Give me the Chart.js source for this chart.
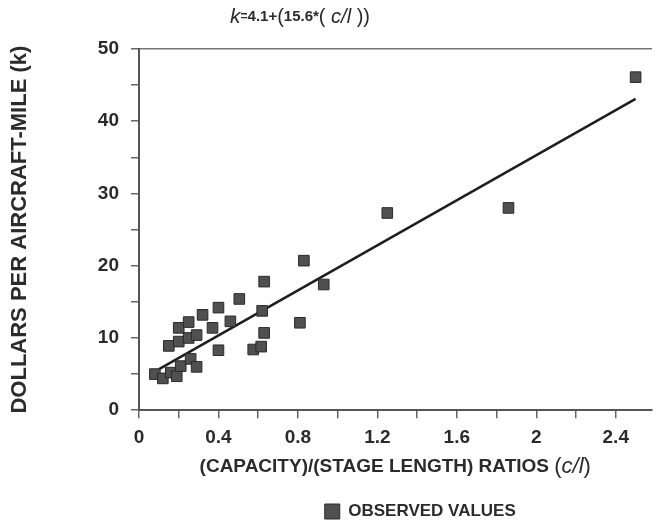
<!DOCTYPE html>
<html lang="en">
<head>
  <meta charset="UTF-8">
  <title>Cost per aircraft-mile</title>
  <script src="https://cdn.jsdelivr.net/npm/chart.js"></script>
  <style>
    html, body { margin: 0; padding: 0; background: #fff; }
    #wrap { width: 660px; height: 522px; }
  </style>
</head>
<body>
  <div id="wrap"><canvas id="costChart"></canvas></div>
  <script>
    const obsX = [0.08, 0.12, 0.15, 0.16, 0.19, 0.20, 0.20, 0.21, 0.25, 0.25,
                  0.29, 0.26, 0.29, 0.32, 0.37, 0.40, 0.40, 0.46, 0.505, 0.575,
                  0.615, 0.63, 0.62, 0.63, 0.81, 0.83, 0.93, 1.25, 1.86, 2.50];
    const obsY = [5.0, 4.4, 8.9, 5.2, 4.7, 9.5, 11.4, 6.1, 12.2, 10.0,
                  10.4, 7.1, 6.0, 13.2, 11.4, 14.2, 8.3, 12.3, 15.4, 8.4,
                  8.8, 17.8, 13.75, 10.7, 12.1, 20.7, 17.4, 27.3, 28.0, 46.1];

    // ends of the fitted line as drawn
    const fitX = [0.07, 2.50];
    const fitY = [5.2, 43.1];

    const xTickLabels = ['0', '0.4', '0.8', '1.2', '1.6', '2', '2.4'];
    const yTickLabels = ['0', '10', '20', '30', '40', '50'];

    const ink = '#2b2b2b';
    const FONT = "'Liberation Sans', Arial, sans-serif";

    // draw a line of mixed-style text centred on cx
    function drawRuns(ctx, runs, cx, cy) {
      let total = 0;
      runs.forEach(r => { ctx.font = r.font; total += ctx.measureText(r.text).width; });
      let x = cx - total / 2;
      ctx.textBaseline = 'middle';
      ctx.textAlign = 'left';
      ctx.fillStyle = ink;
      runs.forEach(r => {
        ctx.font = r.font;
        ctx.fillText(r.text, x, cy + (r.dy || 0));
        x += ctx.measureText(r.text).width;
      });
    }

    const textPlugin = {
      id: 'mixedText',
      afterLayout(chart) {
        // legend sits under the plot area, a little lower than default
        const a = chart.chartArea;
        const lg = chart.legend;
        lg.left = a.left + 50;
        lg.right = a.right;
        lg.top += 8;
        lg.bottom += 8;
      },
      afterDraw(chart) {
        const ctx = chart.ctx;
        const a = chart.chartArea;
        ctx.save();
        drawRuns(ctx, [
          { text: 'k', font: 'italic 21px ' + FONT },
          { text: '=', font: 'bold 12px ' + FONT },
          { text: '4.1+', font: 'bold 15px ' + FONT },
          { text: '(', font: '20px ' + FONT },
          { text: '15.6*', font: 'bold 15px ' + FONT },
          { text: '( ', font: '20px ' + FONT },
          { text: 'c/l', font: 'italic 20px ' + FONT },
          { text: ' ))', font: '20px ' + FONT }
        ], 300, 17);
        drawRuns(ctx, [
          { text: '(CAPACITY)/(STAGE LENGTH) RATIOS ', font: 'bold 19px ' + FONT },
          { text: '(', font: '22px ' + FONT },
          { text: 'c/l', font: 'italic 22px ' + FONT },
          { text: ')', font: '22px ' + FONT }
        ], (a.left + a.right) / 2, 467);
        ctx.restore();
      }
    };

    const ctx = document.getElementById('costChart').getContext('2d');
    new Chart(ctx, {
      data: {
        datasets: [{
          type: 'scatter',
          label: 'OBSERVED VALUES',
          data: obsX.map((x, i) => ({ x: x, y: obsY[i] })),
          pointStyle: 'rect',
          pointRadius: 7.5,
          backgroundColor: '#505050',
          borderColor: '#2a2a2a',
          borderWidth: 1
        }, {
          type: 'line',
          label: 'fit',
          data: fitX.map((x, i) => ({ x: x, y: fitY[i] })),
          borderColor: '#1e1e1e',
          borderWidth: 2.5,
          pointRadius: 0,
          fill: false
        }]
      },
      options: {
        responsive: true,
        maintainAspectRatio: false,
        animation: false,
        layout: { padding: { top: 49, right: 0, left: 0, bottom: 0 } },
        plugins: {
          tooltip: { enabled: false },
          title: { display: false },
          legend: {
            position: 'bottom',
            labels: {
              color: ink,
              font: { family: FONT, size: 17, weight: 'bold' },
              boxWidth: 15,
              boxHeight: 15,
              padding: 4,
              filter: item => item.datasetIndex === 0
            }
          }
        },
        scales: {
          x: {
            type: 'linear',
            min: 0,
            max: 2.58,
            afterFit: s => { s.height += 34; },
            border: { display: true, color: '#555', width: 2 },
            grid: { drawOnChartArea: false, drawTicks: true, tickLength: 8, color: '#666', lineWidth: 1.5 },
            ticks: {
              stepSize: 0.2,
              includeBounds: false,
              autoSkip: false,
              maxRotation: 0,
              padding: 8,
              color: ink,
              font: { family: FONT, size: 19, weight: 'bold' },
              callback: (v, i) => (i % 2 === 0 ? xTickLabels[i / 2] : '')
            }
          },
          xTop: {
            type: 'linear',
            position: 'top',
            min: 0,
            max: 1,
            border: { display: true, color: '#777', width: 1.5 },
            grid: { drawOnChartArea: false, drawTicks: false },
            ticks: { display: false }
          },
          y: {
            type: 'linear',
            min: 0,
            max: 50,
            afterFit: s => { s.width = 139; },
            border: { display: true, color: '#555', width: 2 },
            grid: { drawOnChartArea: false, drawTicks: true, tickLength: 8, color: '#666', lineWidth: 1.5 },
            title: {
              display: true,
              text: 'DOLLARS PER AIRCRAFT-MILE (k)',
              color: ink,
              font: { family: FONT, size: 22, weight: 'bold' },
              padding: { top: 7, bottom: 0 }
            },
            ticks: {
              stepSize: 5,
              autoSkip: false,
              padding: 12,
              color: ink,
              font: { family: FONT, size: 19, weight: 'bold' },
              callback: (v, i) => (i % 2 === 0 ? yTickLabels[i / 2] : '')
            }
          }
        }
      },
      plugins: [textPlugin]
    });
  </script>
</body>
</html>
